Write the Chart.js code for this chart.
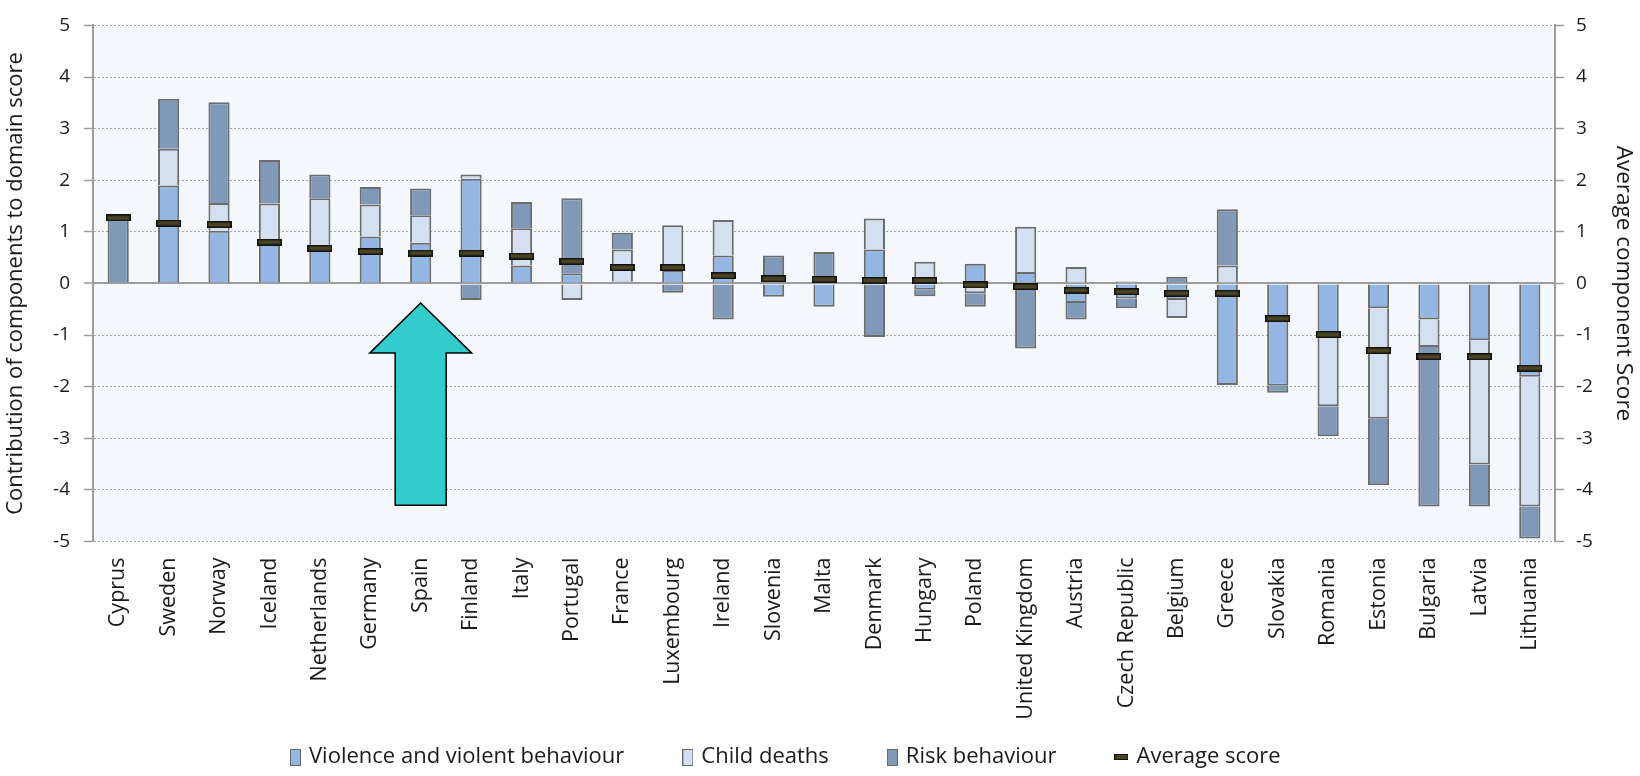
<!DOCTYPE html>
<html>
<head>
<meta charset="utf-8">
<script src="https://cdn.jsdelivr.net/npm/chart.js@4.4.1/dist/chart.umd.min.js"></script>
<style>
  html, body { margin: 0; padding: 0; background: #fff; }
  #wrap { width: 1640px; height: 776px; }
</style>
</head>
<body>
<div id="wrap"><canvas id="chart"></canvas></div>
<script>
const countries = ['Cyprus', 'Sweden', 'Norway', 'Iceland', 'Netherlands', 'Germany', 'Spain', 'Finland', 'Italy',
  'Portugal', 'France', 'Luxembourg', 'Ireland', 'Slovenia', 'Malta', 'Denmark', 'Hungary', 'Poland',
  'United Kingdom', 'Austria', 'Czech Republic', 'Belgium', 'Greece', 'Slovakia', 'Romania', 'Estonia',
  'Bulgaria', 'Latvia', 'Lithuania'];

const violence = [null, 1.90, 1.02, 0.80, 0.66, 0.91, 0.79, 2.03, 0.35, 0.20, 0.04, 0.25, 0.54, -0.26, -0.45,
  0.66, -0.12, 0.38, 0.22, -0.38, -0.29, -0.32, -1.97, -1.98, -0.96, -0.48, -0.70, -1.10, -1.81];
const childDeaths = [null, 0.71, 0.54, 0.75, 0.99, 0.62, 0.53, 0.08, 0.72, -0.32, 0.62, 0.88, 0.69, null, null,
  0.60, 0.42, -0.19, 0.88, 0.32, 0.04, -0.35, 0.35, 0.03, -1.42, -2.14, -0.53, -2.41, -2.51];
const riskBehaviour = [1.25, 0.97, 1.95, 0.84, 0.46, 0.34, 0.52, -0.32, 0.51, 1.45, 0.32, -0.18, -0.70, 0.54, 0.61,
  -1.04, -0.13, -0.26, -1.26, -0.32, -0.19, 0.13, 1.09, -0.14, -0.58, -1.29, -3.09, -0.81, -0.62];
const avgScore = [1.27, 1.17, 1.14, 0.80, 0.68, 0.62, 0.59, 0.59, 0.53, 0.43, 0.31, 0.31, 0.15, 0.09, 0.08,
  0.06, 0.06, -0.03, -0.06, -0.13, -0.16, -0.19, -0.19, -0.68, -0.99, -1.30, -1.42, -1.42, -1.64];

const yTicks = [-5, -4, -3, -2, -1, 0, 1, 2, 3, 4, 5];

const font = 'Open Sans';
const textColor = '#1a1a1a';
const axisGray = '#9c9c9c';
const colViolence = '#93b6e2';
const colChild = '#d4e0f0';
const colRisk = '#8099b9';
const barBorder = '#6c6c6c';

function makeBox(w, h, fill, stroke, lw) {
  const c = document.createElement('canvas');
  c.width = w; c.height = h;
  const g = c.getContext('2d');
  g.fillStyle = stroke;
  g.fillRect(0, 0, w, h);
  g.fillStyle = fill;
  g.fillRect(lw, lw, w - 2 * lw, h - 2 * lw);
  return c;
}

const avgMark = makeBox(25, 7, '#4a4424', '#111', 1.5);
const legendIcons = [
  makeBox(11, 17, colViolence, '#666', 1),
  makeBox(11, 17, colChild, '#666', 1),
  makeBox(11, 17, colRisk, '#666', 1),
  makeBox(14, 6, '#4a4424', '#111', 1)
];

// light blue plot background
const plotBg = {
  id: 'plotBg',
  beforeDraw(chart) {
    const { ctx, chartArea: a } = chart;
    ctx.save();
    ctx.fillStyle = '#f4f8fc';
    ctx.fillRect(a.left, a.top, a.right - a.left, a.bottom - a.top);
    ctx.restore();
  }
};

// legend row under the category labels (items spaced like the original)
const legendRow = {
  id: 'legendRow',
  afterDraw(chart, args, o) {
    const ctx = chart.ctx;
    ctx.save();
    ctx.font = o.size + 'px "' + font + '"';
    ctx.textBaseline = 'middle';
    let x = o.x;
    chart.data.datasets.forEach((ds, i) => {
      const icon = legendIcons[i];
      ctx.drawImage(icon, x, Math.round(o.y - icon.height / 2));
      x += icon.width + o.iconGap;
      ctx.fillStyle = textColor;
      ctx.fillText(ds.label, x, o.y);
      x += ctx.measureText(ds.label).width + o.gap;
    });
    ctx.restore();
  }
};

// the cyan arrow pointing at Spain
const arrow = {
  id: 'arrow',
  afterDraw(chart, args, opts) {
    const { ctx, scales } = chart;
    const cx = scales.x.getPixelForValue(countries.indexOf(opts.target));
    const yTip = scales.y.getPixelForValue(opts.tip);
    const yHead = scales.y.getPixelForValue(opts.head);
    const yEnd = scales.y.getPixelForValue(opts.end);
    ctx.save();
    ctx.beginPath();
    ctx.moveTo(cx, yTip);
    ctx.lineTo(cx + 51, yHead);
    ctx.lineTo(cx + 25.5, yHead);
    ctx.lineTo(cx + 25.5, yEnd);
    ctx.lineTo(cx - 25.5, yEnd);
    ctx.lineTo(cx - 25.5, yHead);
    ctx.lineTo(cx - 51, yHead);
    ctx.closePath();
    ctx.fillStyle = '#33cccc';
    ctx.fill();
    ctx.lineWidth = 1.5;
    ctx.strokeStyle = '#000';
    ctx.stroke();
    ctx.restore();
  }
};

const isZero = c => c.tick && c.tick.value === 0;

const chart = new Chart(document.getElementById('chart').getContext('2d'), {
  type: 'bar',
  data: {
    labels: countries,
    datasets: [
      { label: 'Violence and violent behaviour', data: violence, backgroundColor: colViolence,
        borderColor: barBorder, borderWidth: 2, order: 1 },
      { label: 'Child deaths', data: childDeaths, backgroundColor: colChild,
        borderColor: barBorder, borderWidth: 2, order: 1 },
      { label: 'Risk behaviour', data: riskBehaviour, backgroundColor: colRisk,
        borderColor: barBorder, borderWidth: 2, order: 1 },
      { type: 'line', label: 'Average score', data: avgScore, yAxisID: 'y2', showLine: false,
        pointStyle: avgMark, pointRadius: 10, order: 0 }
    ]
  },
  options: {
    responsive: true,
    maintainAspectRatio: false,
    animation: false,
    layout: { padding: { top: 19, left: 0, right: 0, bottom: 30 } },
    datasets: { bar: { barPercentage: 0.42, categoryPercentage: 1 } },
    plugins: {
      tooltip: { enabled: false },
      legend: { display: false },
      legendRow: { x: 290, y: 757, size: 22, iconGap: 8, gap: 58 },
      arrow: { target: 'Spain', tip: -0.38, head: -1.35, end: -4.3 }
    },
    scales: {
      x: {
        stacked: true,
        grid: { display: false },
        border: { display: false },
        ticks: {
          autoSkip: false, maxRotation: 90, minRotation: 90, padding: 8,
          color: textColor, font: { family: font, size: 21.5 }
        },
        afterFit: s => { s.height = 204.5; }
      },
      y: {
        stacked: true,
        min: yTicks[0],
        max: yTicks[yTicks.length - 1],
        ticks: { stepSize: 1, padding: 14, color: textColor, font: { family: font, size: 19 } },
        grid: {
          color: c => isZero(c) ? axisGray : '#a6a6a6',
          lineWidth: c => isZero(c) ? 2 : 1,
          tickLength: 9, tickColor: axisGray, tickWidth: 1.5
        },
        border: { color: axisGray, width: 2, dash: c => (c.tick && c.tick.value !== 0) ? [2, 2] : [] },
        title: {
          display: true, text: 'Contribution of components to domain score',
          color: textColor, font: { family: font, size: 22 }, padding: { top: 3, bottom: 0 }
        },
        afterFit: s => { s.width = 93; }
      },
      y2: {
        position: 'right',
        min: yTicks[0],
        max: yTicks[yTicks.length - 1],
        ticks: { stepSize: 1, padding: 12, color: textColor, font: { family: font, size: 19 } },
        grid: { drawOnChartArea: false, tickLength: 9, tickColor: axisGray, tickWidth: 1.5 },
        border: { color: axisGray, width: 2 },
        title: {
          display: true, text: 'Average component Score',
          color: textColor, font: { family: font, size: 22.5 }, padding: { top: 3, bottom: 0 }
        },
        afterFit: s => { s.width = 85; }
      }
    }
  },
  plugins: [plotBg, legendRow, arrow]
});
</script>
</body>
</html>
